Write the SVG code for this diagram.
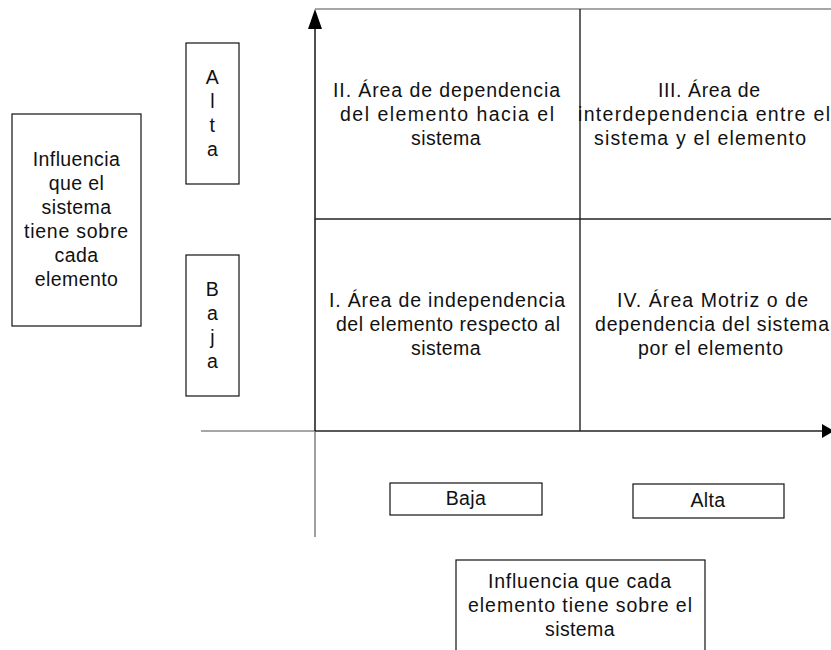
<svg xmlns="http://www.w3.org/2000/svg" width="831" height="650" viewBox="0 0 831 650">
<style>
  text { font-family: "Liberation Sans", Arial, sans-serif; font-size: 19.5px; letter-spacing: 0.4px; fill: #111; text-anchor: middle; }
  text.fit { letter-spacing: 0; }
  .box { fill: #fff; stroke: #111; stroke-width: 1.2; }
  .ax { stroke: #222; stroke-width: 1.6; fill: none; }
  .axg { stroke: #888; stroke-width: 1.6; fill: none; }
  .grid { stroke: #222; stroke-width: 1.4; fill: none; }
</style>
<g id="connectors">
  <line class="axg" x1="315" y1="9" x2="831" y2="9"/>
  <line class="grid" x1="580" y1="9" x2="580" y2="431"/>
  <line class="grid" x1="315" y1="219" x2="831" y2="219"/>
  <line class="axg" x1="315" y1="431" x2="315" y2="537"/>
  <line class="axg" x1="201" y1="431" x2="315" y2="431"/>
  <line class="ax" x1="315" y1="431" x2="315" y2="28"/>
  <polygon points="315,9 308,29 322,29" fill="#000"/>
  <line class="ax" x1="315" y1="431" x2="823" y2="431"/>
  <polygon points="822,424 834,431 822,438" fill="#000"/>
</g>
<g id="q2">
  <text class="fit" x="446.5" y="97" textLength="227" lengthAdjust="spacing">II. Área de dependencia</text>
  <text class="fit" x="447" y="121" textLength="214" lengthAdjust="spacing">del elemento hacia el</text>
  <text x="446" y="145">sistema</text>
</g>
<g id="q3">
  <text class="fit" x="709" y="97" textLength="102" lengthAdjust="spacing">III. Área de</text>
  <text class="fit" x="704" y="121" textLength="252" lengthAdjust="spacing">interdependencia entre el</text>
  <text class="fit" x="700" y="145" textLength="212" lengthAdjust="spacing">sistema y el elemento</text>
</g>
<g id="q1">
  <text class="fit" x="447" y="307" textLength="236" lengthAdjust="spacing">I. Área de independencia</text>
  <text class="fit" x="448" y="331" textLength="224" lengthAdjust="spacing">del elemento respecto al</text>
  <text x="446" y="355">sistema</text>
</g>
<g id="q4">
  <text class="fit" x="712.5" y="307" textLength="191" lengthAdjust="spacing">IV. Área Motriz o de</text>
  <text class="fit" x="712" y="331" textLength="234" lengthAdjust="spacing">dependencia del sistema</text>
  <text class="fit" x="710.5" y="355" textLength="145" lengthAdjust="spacing">por el elemento</text>
</g>
<g id="influencia-sistema">
  <rect class="box" x="12" y="114" width="129" height="212"/>
  <text x="76.5" y="166">Influencia</text>
  <text x="76.5" y="190">que el</text>
  <text x="76.5" y="214">sistema</text>
  <text class="fit" x="76" y="238" textLength="104" lengthAdjust="spacing">tiene sobre</text>
  <text x="76.5" y="262">cada</text>
  <text x="76.5" y="286">elemento</text>
</g>
<g id="alta-v">
  <rect class="box" x="186" y="43" width="53" height="141"/>
  <text x="212.5" y="84">A</text>
  <text x="212.5" y="108">l</text>
  <text x="212.5" y="132">t</text>
  <text x="212.5" y="156">a</text>
</g>
<g id="baja-v">
  <rect class="box" x="186" y="255" width="53" height="141"/>
  <text x="212.5" y="296">B</text>
  <text x="212.5" y="320">a</text>
  <text x="212.5" y="344">j</text>
  <text x="212.5" y="368">a</text>
</g>
<g id="baja-h">
  <rect class="box" x="390" y="483" width="152" height="32"/>
  <text x="466" y="505">Baja</text>
</g>
<g id="alta-h">
  <rect class="box" x="633" y="484" width="151" height="34"/>
  <text x="708" y="507">Alta</text>
</g>
<g id="influencia-elemento">
  <rect class="box" x="456" y="560" width="249" height="100"/>
  <text class="fit" x="579.5" y="588" textLength="183" lengthAdjust="spacing">Influencia que cada</text>
  <text class="fit" x="580" y="612" textLength="224" lengthAdjust="spacing">elemento tiene sobre el</text>
  <text x="580" y="636">sistema</text>
</g>
</svg>
